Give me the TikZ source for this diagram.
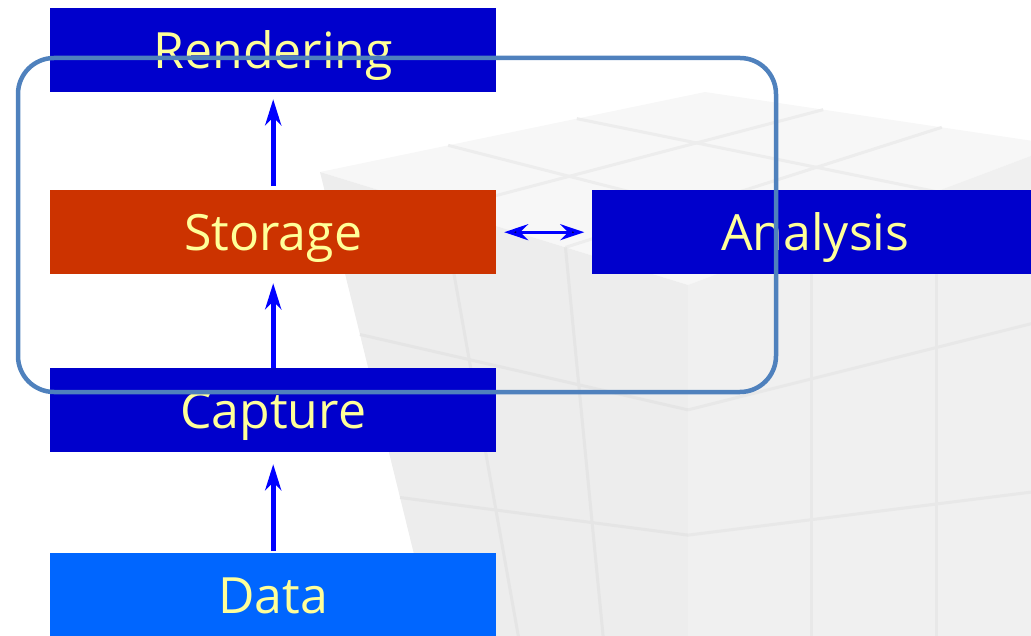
\documentclass[tikz,border=0pt]{standalone}
\usepackage{fontspec}
\setmainfont{Open Sans}
\usetikzlibrary{matrix,arrows.meta,calc}
\definecolor{stageblue}{HTML}{0000CC}
\definecolor{storered}{HTML}{CC3300}
\definecolor{datablue}{HTML}{0066FF}
\definecolor{labelyellow}{HTML}{FFFF99}
\definecolor{scopeblue}{HTML}{4F81BD}
\tikzset{
	stage/.style={fill=stageblue, text=labelyellow, minimum width=446pt, minimum height=84pt,
		inner sep=0pt, outer sep=0pt, text height=35.7pt, text depth=0pt,
		font=\fontsize{50}{60}\selectfont},
	flow/.style={draw=blue, line width=5pt, -{Stealth[length=26pt,width=16pt,inset=8pt]}},
	link/.style={draw=blue, line width=3pt, {Stealth[length=24pt,width=16pt,inset=8pt]}-{Stealth[length=24pt,width=16pt,inset=8pt]}},
	cubeline/.style={draw=black!7, line width=3pt},
}

\begin{document}
\begin{tikzpicture}[x=1pt,y=-1pt]
	\clip (0,0) rectangle (1031,636);
	% faint cube behind
	\coordinate (cA) at (320,172);
	\coordinate (cB) at (705,92);
	\coordinate (cC) at (1060,145);
	\coordinate (cD) at (688,285);
	\coordinate (cE) at (688,660);
	\coordinate (cF) at (440,660);
	\coordinate (cG) at (1060,660);
	\fill[black!3] (cA) -- (cB) -- (cC) -- (cD) -- cycle;
	\fill[black!7] (cA) -- (cD) -- (cE) -- (cF) -- cycle;
	\fill[black!6] (cD) -- (cC) -- (cG) -- (cE) -- cycle;
	\foreach \t in {0.333,0.667} {
		\draw[cubeline] ($(cA)!\t!(cB)$) -- ($(cD)!\t!(cC)$);
		\draw[cubeline] ($(cA)!\t!(cD)$) -- ($(cB)!\t!(cC)$);
		\draw[cubeline, black!10] ($(cA)!\t!(cD)$) -- ($(cF)!\t!(cE)$);
		\draw[cubeline, black!10] ($(cA)!\t!(cF)$) -- ($(cD)!\t!(cE)$);
		\draw[cubeline, black!9] ($(cD)!\t!(cC)$) -- ($(cE)!\t!(cG)$);
		\draw[cubeline, black!9] ($(cD)!\t!(cE)$) -- ($(cC)!\t!(cG)$);
	}

	\matrix (m) at (50,8) [matrix of nodes, anchor=north west, inner sep=0pt,
		row sep=94pt, column sep=96pt, nodes={stage}]
	{
		Rendering & \\[4pt]
		|[fill=storered]| Storage & Analysis \\
		Capture & \\[7pt]
		|[fill=datablue]| Data & \\
	};
	\path[flow]
	(m-4-1) edge[shorten <=2pt, shorten >=12pt] (m-3-1)
	(m-3-1) edge[shorten >=9pt] (m-2-1)
	(m-2-1) edge[shorten <=4pt, shorten >=7pt] (m-1-1);
	\path[link]
	(m-2-1) edge[shorten <=8pt, shorten >=8pt] (m-2-2);

	\draw[scopeblue, line width=4.5pt, rounded corners=36pt] (18,58) rectangle (776,392);
\end{tikzpicture}
\end{document}
